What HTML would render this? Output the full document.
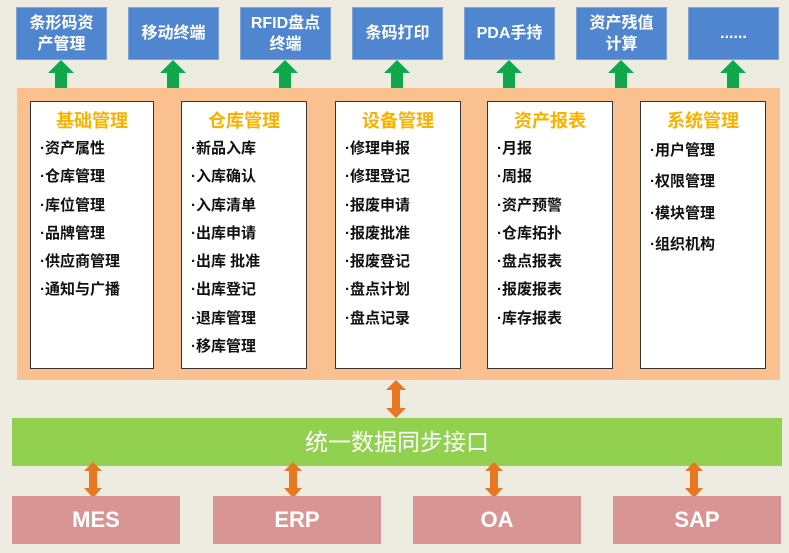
<!DOCTYPE html><html><head><meta charset="utf-8"><style>
body{margin:0;width:789px;height:553px;background:#eeebe0;position:relative;overflow:hidden;font-family:"Liberation Sans","Noto Sans CJK SC",sans-serif}
.a{position:absolute}
.top{background:#4f86cf;border:1px solid #7ea6dc;color:#fff;font-weight:bold;font-size:16px;display:flex;align-items:center;justify-content:center;text-align:center;line-height:21px;box-sizing:border-box;width:91px;height:53px;top:7px}
.wb{background:#fff;border:1.5px solid #333;box-sizing:border-box;top:101px;height:268px}
.t{color:#f7b200;font-size:18px;font-weight:bold;text-align:center;margin-top:5px}
.it{font-size:15px;font-weight:bold;color:#111;padding-left:9px;height:28.3px;line-height:28.3px;white-space:nowrap}
.pk{background:#d99594;color:#fff;font-weight:bold;font-size:22px;display:flex;align-items:center;justify-content:center;top:496px;height:48px;width:168px}
</style></head><body>
<div class="a top" style="left:16px">条形码资<br>产管理</div>
<div class="a top" style="left:128px">移动终端</div>
<div class="a top" style="left:240px">RFID盘点<br>终端</div>
<div class="a top" style="left:352px">条码打印</div>
<div class="a top" style="left:464px">PDA手持</div>
<div class="a top" style="left:576px">资产残值<br>计算</div>
<div class="a top" style="left:688px">......</div>
<svg class="a" style="left:0;top:0" width="789" height="553">
<g fill="#0fa84a">
<polygon points="61,60 74,73 67,73 67,88 55,88 55,73 48,73"/>
<polygon points="173,60 186,73 179,73 179,88 167,88 167,73 160,73"/>
<polygon points="285,60 298,73 291,73 291,88 279,88 279,73 272,73"/>
<polygon points="397,60 410,73 403,73 403,88 391,88 391,73 384,73"/>
<polygon points="509,60 522,73 515,73 515,88 503,88 503,73 496,73"/>
<polygon points="621,60 634,73 627,73 627,88 615,88 615,73 608,73"/>
<polygon points="733,60 746,73 739,73 739,88 727,88 727,73 720,73"/>
</g>
<rect x="17" y="88" width="763" height="292" fill="#fac090"/>
<rect x="12" y="418" width="770" height="48" fill="#92d050"/>
<g fill="#e87722">
<polygon points="396,380 406,390 400,390 400,408 406,408 396,418 386,408 392,408 392,390 386,390"/>
<polygon points="93,462 102,471 97,471 97,488 102,488 93,498 84,488 89,488 89,471 84,471"/>
<polygon points="293,462 302,471 297,471 297,488 302,488 293,498 284,488 289,488 289,471 284,471"/>
<polygon points="494,462 503,471 498,471 498,488 503,488 494,498 485,488 490,488 490,471 485,471"/>
<polygon points="694,462 703,471 698,471 698,488 703,488 694,498 685,488 690,488 690,471 685,471"/>
</g>
<text x="397" y="450" fill="#fff" font-size="23" text-anchor="middle" font-family="Liberation Sans,Noto Sans CJK SC,sans-serif">统一数据同步接口</text>
</svg>
<div class="a wb" style="left:30px;width:124px"><div class="t">基础管理</div><div style="margin-top:2px">
<div class="it">·资产属性</div><div class="it">·仓库管理</div><div class="it">·库位管理</div><div class="it">·品牌管理</div><div class="it">·供应商管理</div><div class="it">·通知与广播</div></div></div>
<div class="a wb" style="left:181px;width:126px"><div class="t">仓库管理</div><div style="margin-top:2px">
<div class="it">·新品入库</div><div class="it">·入库确认</div><div class="it">·入库清单</div><div class="it">·出库申请</div><div class="it">·出库 批准</div><div class="it">·出库登记</div><div class="it">·退库管理</div><div class="it">·移库管理</div></div></div>
<div class="a wb" style="left:335px;width:126px"><div class="t">设备管理</div><div style="margin-top:2px">
<div class="it">·修理申报</div><div class="it">·修理登记</div><div class="it">·报废申请</div><div class="it">·报废批准</div><div class="it">·报废登记</div><div class="it">·盘点计划</div><div class="it">·盘点记录</div></div></div>
<div class="a wb" style="left:487px;width:126px"><div class="t">资产报表</div><div style="margin-top:2px">
<div class="it">·月报</div><div class="it">·周报</div><div class="it">·资产预警</div><div class="it">·仓库拓扑</div><div class="it">·盘点报表</div><div class="it">·报废报表</div><div class="it">·库存报表</div></div></div>
<div class="a wb" style="left:640px;width:126px"><div class="t">系统管理</div><div style="margin-top:2px">
<div class="it" style="height:31.3px;line-height:31.3px">·用户管理</div><div class="it" style="height:31.3px;line-height:31.3px">·权限管理</div><div class="it" style="height:31.3px;line-height:31.3px">·模块管理</div><div class="it" style="height:31.3px;line-height:31.3px">·组织机构</div></div></div>
<div class="a pk" style="left:12px">MES</div>
<div class="a pk" style="left:213px">ERP</div>
<div class="a pk" style="left:413px">OA</div>
<div class="a pk" style="left:613px">SAP</div>
</body></html>
